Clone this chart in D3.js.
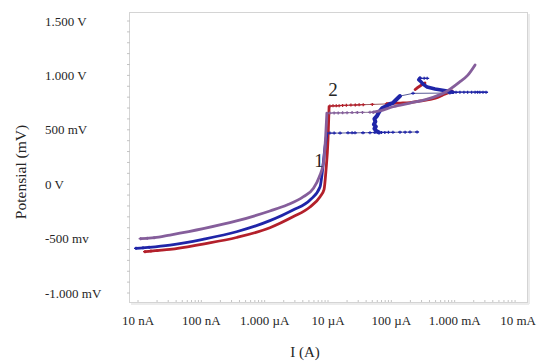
<!DOCTYPE html>
<html>
<head>
<meta charset="utf-8">
<script src="https://cdn.jsdelivr.net/npm/d3@7"></script>
<style>
  body { margin: 0; background: #fff; }
  svg text { font-family: "Liberation Serif", "Times New Roman", serif; fill: #262626; }
</style>
</head>
<body>
<div id="chart"></div>
<script>
// axis ticks
const xTickValues = [1e-8, 1e-7, 1e-6, 1e-5, 1e-4, 1e-3, 1e-2];
const xTickLabels = ["10 nA", "100 nA", "1.000 µA", "10 µA", "100 µA", "1.000 mA", "10 mA"];
const yTickValues = [1.5, 1.0, 0.5, 0, -0.5, -1.0];
const yTickLabels = ["1.500 V", "1.000 V", "500 mV", "0 V", "-500 mv", "-1.000 mV"];

// [current (A), potential (V)]
const redCurve = [[1.29e-8, -0.62], [1.6e-8, -0.615], [2.0e-8, -0.61], [3.2e-8, -0.60], [1.06e-7, -0.55],
  [3.6e-7, -0.49], [1.21e-6, -0.40], [2.8e-6, -0.30], [5.2e-6, -0.21], [7.5e-6, -0.115],
  [8.65e-6, -0.05], [9.3e-6, 0.13], [1.0e-5, 0.41], [1.04e-5, 0.71]];
const redPlateau = [[1.07e-5, 0.718], [1.2e-5, 0.72], [1.35e-5, 0.72], [1.5e-5, 0.722], [1.7e-5, 0.724],
  [1.95e-5, 0.725], [2.3e-5, 0.727], [2.7e-5, 0.728], [3.1e-5, 0.73], [3.6e-5, 0.731], [5e-5, 0.733], [8.5e-5, 0.738]];
const redUpper = [[8.5e-5, 0.74], [1.06e-4, 0.744], [1.4e-4, 0.746], [1.97e-4, 0.75], [2.9e-4, 0.765],
  [4.1e-4, 0.78], [5.5e-4, 0.80], [6.5e-4, 0.82], [8e-4, 0.84], [9.1e-4, 0.857]];
const redLoop = [[2.37e-4, 0.87], [2.8e-4, 0.90], [3.4e-4, 0.93]];

const blueCurve = [[9.3e-9, -0.589], [1.2e-8, -0.585], [1.5e-8, -0.58], [3.2e-8, -0.559], [1.06e-7, -0.506],
  [3.6e-7, -0.437], [1.21e-6, -0.335], [2.8e-6, -0.237], [5.2e-6, -0.145], [7.5e-6, -0.023],
  [8.1e-6, 0.103], [8.8e-6, 0.3], [9.6e-6, 0.47]];
const bluePlateau = [[1.07e-5, 0.47], [1.25e-5, 0.47], [1.55e-5, 0.47], [2.07e-5, 0.472], [2.4e-5, 0.472],
  [2.67e-5, 0.472], [3.57e-5, 0.473], [4.6e-5, 0.474], [5.5e-5, 0.475], [6.2e-5, 0.475], [7e-5, 0.476],
  [7.9e-5, 0.476], [9e-5, 0.477], [1.06e-4, 0.477], [1.37e-4, 0.478], [1.65e-4, 0.478], [1.97e-4, 0.479], [2.55e-4, 0.48]];
const blueBlob = [[6.4e-5, 0.475], [5.8e-5, 0.49], [5.4e-5, 0.51], [5.7e-5, 0.53], [5.3e-5, 0.55],
  [5.6e-5, 0.575], [5.4e-5, 0.6], [5.9e-5, 0.625], [6.4e-5, 0.664], [7.2e-5, 0.70], [8.5e-5, 0.72],
  [9.5e-5, 0.737], [1.05e-4, 0.745], [1.18e-4, 0.774], [1.37e-4, 0.81]];
const blueBridge = [[1.37e-4, 0.81], [2.2e-4, 0.835], [8.4e-4, 0.838]];
const blueTopLine = [[2.84e-4, 0.973], [3.3e-4, 0.973], [3.68e-4, 0.973]];
const blueTop = [[2.84e-4, 0.976], [2.7e-4, 0.96], [2.9e-4, 0.945], [3.16e-4, 0.921], [3.68e-4, 0.893],
  [4.9e-4, 0.875], [7.6e-4, 0.857], [9.4e-4, 0.845]];
const blueTail = [[9.4e-4, 0.845], [1.05e-3, 0.845], [1.21e-3, 0.846], [1.4e-3, 0.846], [1.6e-3, 0.846],
  [1.85e-3, 0.846], [2.1e-3, 0.846], [2.3e-3, 0.846], [2.5e-3, 0.845], [2.8e-3, 0.845], [3.13e-3, 0.845]];

const purpleCurve = [[1.1e-8, -0.501], [1.4e-8, -0.497], [1.8e-8, -0.492], [3.2e-8, -0.467], [1.07e-7, -0.409],
  [3.6e-7, -0.338], [1.21e-6, -0.246], [2.25e-6, -0.191], [4.1e-6, -0.115], [5.9e-6, -0.038],
  [7.3e-6, 0.069], [8.5e-6, 0.2], [9.2e-6, 0.45], [9.6e-6, 0.654]];
const purplePlateau = [[1.07e-5, 0.654], [1.25e-5, 0.655], [1.45e-5, 0.655], [1.7e-5, 0.656], [2.0e-5, 0.657],
  [2.4e-5, 0.658], [2.9e-5, 0.659], [3.5e-5, 0.66], [4.6e-5, 0.661], [5.2e-5, 0.662]];
const purpleUpper = [[5.2e-5, 0.662], [6.6e-5, 0.673], [1.06e-4, 0.712], [1.97e-4, 0.746], [3.6e-4, 0.78],
  [7.3e-4, 0.85], [1.21e-3, 0.942], [1.6e-3, 1.0], [2.1e-3, 1.096]];

// "1" and "2" markers on the curve
const notes = [["1", 7.2e-6, 0.22], ["2", 1.2e-5, 0.87]];

const RED = "#b3202b", BLUE = "#1f25a8", PURPLE = "#855e9b";

// thick = measured curve, thin = sparse points joined by a thin line with markers
const segments = [
    { data: redCurve, color: RED, thick: true },
    { data: redPlateau, color: RED, thick: false },
    { data: redUpper, color: RED, thick: true },
    { data: redLoop, color: RED, thick: true },
    { data: blueCurve, color: BLUE, thick: true },
    { data: bluePlateau, color: BLUE, thick: false },
    { data: blueBlob, color: BLUE, thick: true, linear: true, width: 4 },
    { data: blueBridge, color: BLUE, thick: false },
    { data: blueTopLine, color: BLUE, thick: false },
    { data: blueTop, color: BLUE, thick: true, linear: true, width: 3.5 },
    { data: blueTail, color: BLUE, thick: false },
    { data: purpleCurve, color: PURPLE, thick: true },
    { data: purplePlateau, color: PURPLE, thick: false },
    { data: purpleUpper, color: PURPLE, thick: true }
];

const width = 537, height = 361;
const frame = { left: 129, top: 12, right: 527, bottom: 302 };

const svg = d3.select("#chart")
    .append("svg")
    .attr("width", width)
    .attr("height", height);

const x = d3.scaleLog().domain([1e-8, 1e-2]).range([138, 518]);
const y = d3.scaleLinear().domain([-1, 1.5]).range([293, 21]);

// plot frame with a faint shadow
svg.append("line")
    .attr("x1", frame.left + 2).attr("x2", frame.right + 2)
    .attr("y1", frame.bottom + 2).attr("y2", frame.bottom + 2)
    .attr("stroke", "#ececec").attr("stroke-width", 2);
svg.append("line")
    .attr("x1", frame.right + 2).attr("x2", frame.right + 2)
    .attr("y1", frame.top + 2).attr("y2", frame.bottom + 2)
    .attr("stroke", "#ececec").attr("stroke-width", 2);
svg.append("rect")
    .attr("x", frame.left + 0.5).attr("y", frame.top + 0.5)
    .attr("width", frame.right - frame.left).attr("height", frame.bottom - frame.top)
    .attr("fill", "#fff").attr("stroke", "#d4d4d4");

// minor ticks along the frame
const minorX = [];
x.ticks().forEach(t => { if (t < 1e-2) minorX.push(t); });
svg.append("g").selectAll("line").data(minorX).enter().append("line")
    .attr("x1", d => x(d)).attr("x2", d => x(d))
    .attr("y1", frame.bottom - 2).attr("y2", frame.bottom)
    .attr("stroke", "#c4c4c4");
svg.append("g").selectAll("line").data(d3.range(-10, 16).map(d => d / 10)).enter().append("line")
    .attr("x1", frame.left - 2).attr("x2", frame.left + 1)
    .attr("y1", d => y(d)).attr("y2", d => y(d))
    .attr("stroke", "#c4c4c4");

// tick labels
svg.append("g").selectAll("text").data(xTickValues).enter().append("text")
    .attr("x", d => x(d)).attr("y", 325)
    .attr("text-anchor", "middle")
    .attr("font-size", "13px")
    .text((d, i) => xTickLabels[i]);
svg.append("g").selectAll("text").data(yTickValues).enter().append("text")
    .attr("x", 45).attr("y", d => y(d))
    .attr("dy", "0.35em")
    .attr("font-size", "13px")
    .text((d, i) => yTickLabels[i]);

// axis titles
svg.append("text")
    .attr("x", 305).attr("y", 357)
    .attr("text-anchor", "middle")
    .attr("font-size", "15px")
    .text("I (A)");
svg.append("text")
    .attr("transform", "translate(26,172) rotate(-90)")
    .attr("text-anchor", "middle")
    .attr("font-size", "15.5px")
    .text("Potensial (mV)");

const smooth = d3.line().x(d => x(d[0])).y(d => y(d[1])).curve(d3.curveMonotoneX);
const straight = d3.line().x(d => x(d[0])).y(d => y(d[1]));
const cross = "M-2,0H2M0,-1.5V1.5";

segments.forEach(s => {
    const g = svg.append("g");
    g.append("path")
        .attr("d", (s.thick && !s.linear ? smooth : straight)(s.data))
        .attr("fill", "none")
        .attr("stroke", s.thick ? s.color : d3.interpolateRgb(s.color, "#8a8a8a")(0.55))
        .attr("stroke-width", s.thick ? (s.width || 2.8) : 1)
        .attr("stroke-linejoin", "round")
        .attr("stroke-linecap", "round");
    // markers on the sparse runs, and on the first few points of each curve
    const marked = s.thick ? (s.data[0][0] < 1e-7 ? s.data.slice(0, 3) : []) : s.data;
    g.selectAll(".m").data(marked).enter().append("path")
        .attr("transform", d => `translate(${x(d[0])},${y(d[1])})`)
        .attr("d", cross)
        .attr("stroke", s.color)
        .attr("stroke-width", 1.3);
});

svg.append("g").selectAll("text").data(notes).enter().append("text")
    .attr("x", d => x(d[1])).attr("y", d => y(d[2]))
    .attr("text-anchor", "middle")
    .attr("dy", "0.35em")
    .attr("font-size", "19px")
    .attr("fill", "#1a1a1a")
    .text(d => d[0]);
</script>
</body>
</html>
